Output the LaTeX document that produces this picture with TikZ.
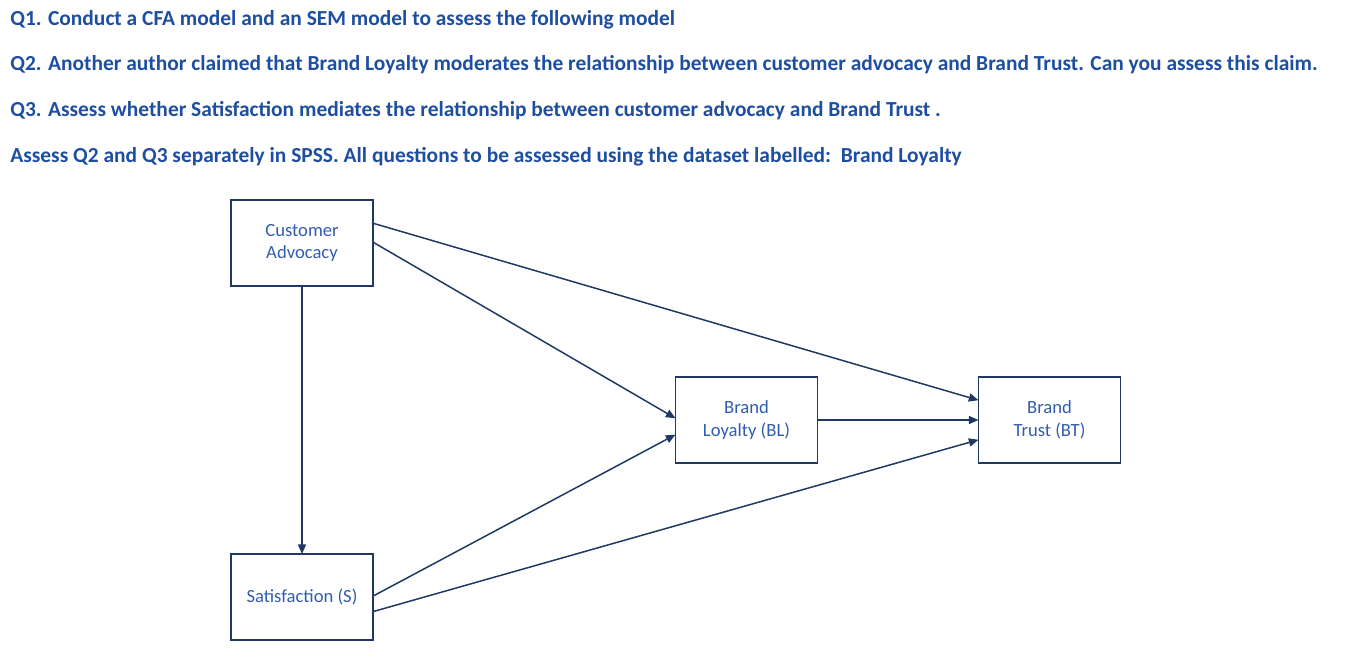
\documentclass[tikz,border=0pt]{standalone}
\usepackage{fontspec}
\setmainfont{Carlito}
\usetikzlibrary{arrows.meta,calc}

\definecolor{qblue}{RGB}{30,78,160}
\definecolor{lblue}{RGB}{50,92,175}
\definecolor{navy}{RGB}{31,56,100}

\begin{document}
\begin{tikzpicture}[
  x=0.02cm, y=-0.02cm,
  question/.style={anchor=base west, inner sep=0pt, text=qblue, font=\fontsize{12.2}{14}\selectfont\bfseries},
  construct/.style={draw=navy, line width=1.1pt, rectangle, minimum width=2.84cm, minimum height=1.72cm, align=center, text=lblue, font=\fontsize{10.6}{13}\selectfont, inner sep=0pt, outer sep=0pt},
  path/.style={-{Triangle[length=5.5pt, width=4.6pt]}, draw=navy, line width=0.85pt}
]
\useasboundingbox (0,0) rectangle (1366,666);

\node[question] (q1) at (10,26) {Q1. Conduct a CFA model and an SEM model to assess the following model};
\node[question] (q2) at (10,71) {Q2. Another author claimed that Brand Loyalty moderates the relationship between customer advocacy and Brand Trust. Can you assess this claim.};
\node[question] (q3) at (10,116) {Q3. Assess whether Satisfaction mediates the relationship between customer advocacy and Brand Trust .};
\node[question] (q4) at (10,162) {Assess Q2 and Q3 separately in SPSS. All questions to be assessed using the dataset labelled:\ \ Brand Loyalty};

\node[construct] (ca) at (302,243) {Customer\\Advocacy};
\node[construct] (sat) at (302,597) {Satisfaction (S)};
\node[construct] (bl) at (746.5,420) {Brand\\Loyalty (BL)};
\node[construct] (bt) at (1049.5,420) {Brand\\Trust (BT)};

\draw[path] ($(ca.north east)!0.27!(ca.south east)$) -- ($(bt.north west)!0.27!(bt.south west)$);
\draw[path] ($(ca.north east)!0.49!(ca.south east)$) -- ($(bl.north west)!0.48!(bl.south west)$);
\draw[path] (ca) -- (sat);
\draw[path] ($(sat.north east)!0.49!(sat.south east)$) -- ($(bl.north west)!0.67!(bl.south west)$);
\draw[path] ($(sat.north east)!0.67!(sat.south east)$) -- ($(bt.north west)!0.73!(bt.south west)$);
\draw[path] (bl) -- (bt);
\end{tikzpicture}
\end{document}
